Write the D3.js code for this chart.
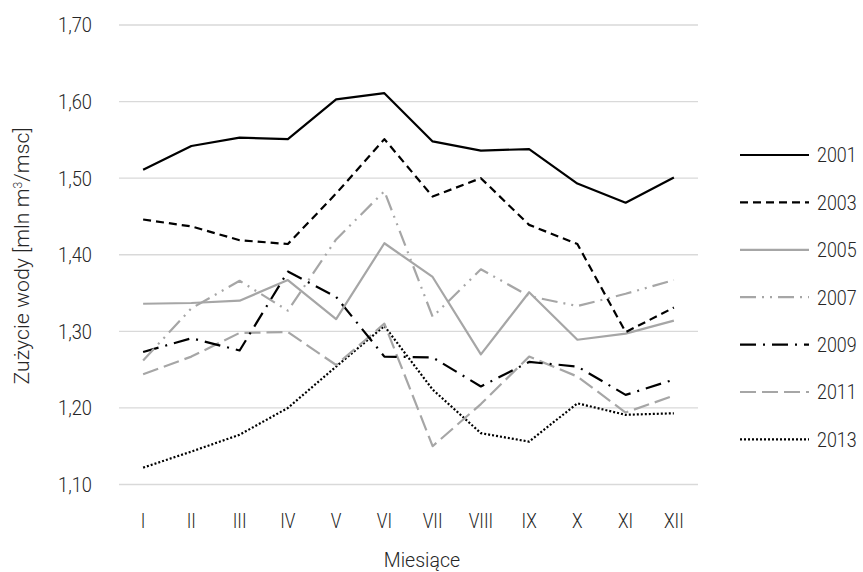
<!DOCTYPE html>
<html><head><meta charset="utf-8">
<script src="https://cdn.jsdelivr.net/npm/d3@7"></script>
<style>
body{margin:0;background:#fff;}
text{font-family:"Roboto",sans-serif;font-weight:300;fill:#262626;}
</style></head>
<body><svg id="c" width="863" height="572"></svg>
<script>
const months = ["I","II","III","IV","V","VI","VII","VIII","IX","X","XI","XII"];
const yTicks = [1.10,1.20,1.30,1.40,1.50,1.60,1.70];
const years = ["2001","2003","2005","2007","2009","2011","2013"];
const v2001 = [1.511,1.542,1.553,1.551,1.603,1.611,1.548,1.536,1.538,1.493,1.468,1.501];
const v2003 = [1.446,1.437,1.419,1.414,1.480,1.551,1.476,1.500,1.439,1.414,1.299,1.331];
const v2005 = [1.336,1.337,1.340,1.367,1.316,1.415,1.371,1.270,1.351,1.289,1.297,1.314];
const v2007 = [1.262,1.330,1.366,1.327,1.420,1.483,1.319,1.381,1.346,1.333,1.349,1.367];
const v2009 = [1.273,1.291,1.275,1.378,1.345,1.267,1.266,1.228,1.260,1.254,1.217,1.237];
const v2011 = [1.244,1.267,1.298,1.299,1.256,1.310,1.150,1.205,1.267,1.241,1.194,1.216];
const v2013 = [1.122,1.143,1.165,1.200,1.254,1.307,1.224,1.167,1.156,1.206,1.191,1.193];
const seriesValues = [v2001,v2003,v2005,v2007,v2009,v2011,v2013];
const styles = [
  {c:"#000",d:null},
  {c:"#000",d:"8,5"},
  {c:"#a6a6a6",d:null},
  {c:"#a6a6a6",d:"16,6,2,6,2,6"},
  {c:"#000",d:"16,7,2,7"},
  {c:"#a6a6a6",d:"16,6"},
  {c:"#000",d:"2,2"}
];
const FS = 21;
function condense(f){
  return sel => sel.each(function(){
    const l = this.getComputedTextLength();
    d3.select(this).attr("textLength", l*f).attr("lengthAdjust","spacingAndGlyphs");
  });
}

const svg = d3.select("#c");
const x = d3.scaleBand().domain(months).range([119,698]);
const y = d3.scaleLinear().domain([1.10,1.70]).range([484.5,25]);

svg.append("g").selectAll("line").data(yTicks).join("line")
  .attr("x1",119).attr("x2",698).attr("y1",d=>y(d)).attr("y2",d=>y(d))
  .attr("stroke","#d9d9d9").attr("stroke-width",1.3);

const fmt = d=>d.toFixed(2).replace(".",",");
svg.append("g").selectAll("text").data(yTicks).join("text")
  .attr("x",92).attr("y",d=>y(d)).attr("dy","0.35em").attr("text-anchor","end")
  .attr("font-size",FS).text(fmt).call(condense(0.87));

svg.append("g").selectAll("text").data(months).join("text")
  .attr("x",d=>x(d)+x.bandwidth()/2).attr("y",521).attr("dy","0.35em").attr("text-anchor","middle")
  .attr("font-size",FS).text(d=>d).call(condense(0.82));

svg.append("text").attr("x",422).attr("y",560).attr("dy","0.35em").attr("text-anchor","middle")
  .attr("font-size",FS).text("Miesiące").call(condense(0.93));

const yt = svg.append("text").attr("transform","translate(22,256) rotate(-90)")
  .attr("text-anchor","middle").attr("dy","0.35em").attr("font-size",FS);
yt.append("tspan").text("Zużycie wody [mln m");
yt.append("tspan").attr("baseline-shift","super").attr("font-size",12).text("3");
yt.append("tspan").text("/msc]");
yt.attr("textLength",257).attr("lengthAdjust","spacingAndGlyphs");

const line = d3.line().x((d,i)=>x(months[i])+x.bandwidth()/2).y(d=>y(d));
const order = [6,5,4,3,2,1,0];
order.forEach(k=>{
  svg.append("path").datum(seriesValues[k]).attr("d",line)
    .attr("fill","none").attr("stroke",styles[k].c).attr("stroke-width",2.2)
    .attr("stroke-dasharray",styles[k].d).attr("stroke-linejoin","round");
});

const lg = svg.append("g");
years.forEach((yr,k)=>{
  const ly = 155 + k*47.4;
  lg.append("line").attr("x1",740).attr("x2",809).attr("y1",ly).attr("y2",ly)
    .attr("stroke",styles[k].c).attr("stroke-width",2.2).attr("stroke-dasharray",styles[k].d);
  lg.append("text").attr("x",817).attr("y",ly).attr("dy","0.35em").attr("font-size",FS).text(yr).call(condense(0.85));
});
</script></body></html>
